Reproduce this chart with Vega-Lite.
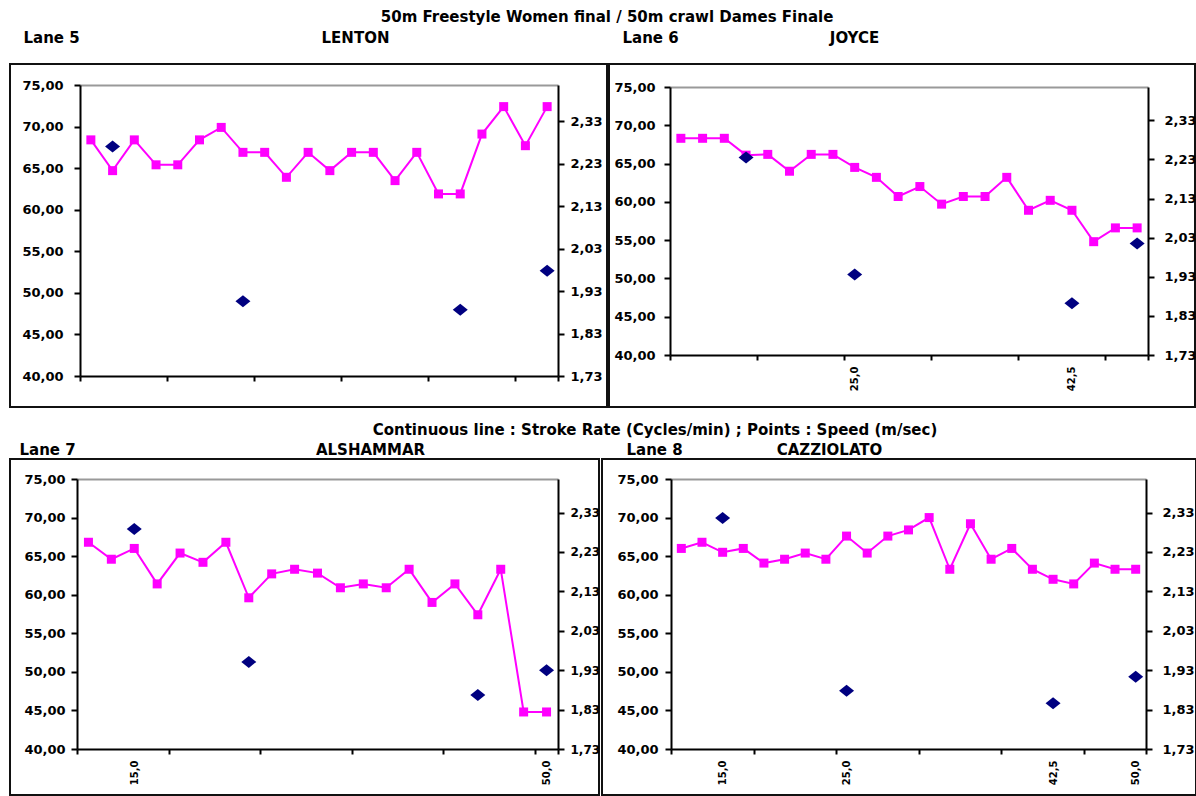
{
  "$schema": "https://vega.github.io/schema/vega-lite/v6.json",
  "padding": {"left": 9, "top": 10, "right": 0, "bottom": 0},
  "title": {"text": "50m Freestyle Women final / 50m crawl Dames Finale", "anchor": "middle", "dx": 4, "offset": 4},
  "spacing": 15,
  "vconcat": [
    {
      "spacing": 0,
      "hconcat": [
        {
          "width": 597, "height": 343,
          "layer": [
            {
              "data": {"values": [
                {"n": 1, "rate": 68.4}, {"n": 2, "rate": 64.7}, {"n": 3, "rate": 68.4}, {"n": 4, "rate": 65.4},
                {"n": 5, "rate": 65.4}, {"n": 6, "rate": 68.4}, {"n": 7, "rate": 69.9}, {"n": 8, "rate": 66.9},
                {"n": 9, "rate": 66.9}, {"n": 10, "rate": 63.9}, {"n": 11, "rate": 66.9}, {"n": 12, "rate": 64.7},
                {"n": 13, "rate": 66.9}, {"n": 14, "rate": 66.9}, {"n": 15, "rate": 63.5}, {"n": 16, "rate": 66.9},
                {"n": 17, "rate": 61.9}, {"n": 18, "rate": 61.9}, {"n": 19, "rate": 69.1}, {"n": 20, "rate": 72.4},
                {"n": 21, "rate": 67.7}, {"n": 22, "rate": 72.4}
              ]},
              "mark": {"type": "line", "color": "#FF00FF", "strokeWidth": 2, "point": {"shape": "square", "size": 81, "filled": true, "color": "#FF00FF", "opacity": 1}},
              "encoding": {
                "x": {"field": "n", "type": "quantitative",
                  "scale": {"domain": [0.5, 22.5], "range": [70, 548], "nice": false, "zero": false},
                  "axis": {"values": [0.5, 4.5, 8.5, 12.5, 16.5, 20.5, 22.5], "labels": false, "tickSize": 5, "offset": -31, "title": null}},
                "y": {"field": "rate", "type": "quantitative",
                  "scale": {"domain": [40, 75], "range": [312, 21], "nice": false, "zero": false},
                  "axis": {"values": [40, 45, 50, 55, 60, 65, 70, 75], "labelExpr": "replace(format(datum.value, '.2f'), '.', ',')",
                    "offset": -70, "labelPadding": 11, "grid": true, "gridColor": "#999999", "gridWidth": 2,
                    "gridOpacity": {"condition": {"test": "datum.value === 75", "value": 1}, "value": 0},
                    "title": "Lane 5", "titleAngle": 0, "titleAlign": "left", "titleBaseline": "middle", "titleX": -57, "titleY": -27}}
              }
            },
            {
              "data": {"values": [
                {"n": 2, "speed": 2.27}, {"n": 8, "speed": 1.906}, {"n": 18, "speed": 1.886}, {"n": 22, "speed": 1.978}
              ]},
              "mark": {"type": "point", "shape": "M-1,0L0,-0.8L1,0L0,0.8Z", "size": 225, "filled": true, "color": "#000080", "opacity": 1},
              "encoding": {
                "x": {"field": "n", "type": "quantitative"},
                "y": {"field": "speed", "type": "quantitative",
                  "scale": {"domain": [1.73, 2.415], "range": [312, 21], "nice": false, "zero": false},
                  "axis": {"orient": "right", "values": [1.73, 1.83, 1.93, 2.03, 2.13, 2.23, 2.33], "labelExpr": "replace(format(datum.value, '.2f'), '.', ',')",
                    "offset": -49, "labelPadding": 6,
                    "title": "LENTON", "titleAngle": 0, "titleAlign": "center", "titleBaseline": "middle", "titleX": -203, "titleY": -27}}
              }
            }
          ],
          "resolve": {"scale": {"y": "independent"}}
        },
        {
          "width": 586, "height": 343,
          "layer": [
            {
              "data": {"values": [
                {"n": 1, "rate": 68.3}, {"n": 2, "rate": 68.3}, {"n": 3, "rate": 68.3}, {"n": 4, "rate": 66.1},
                {"n": 5, "rate": 66.2}, {"n": 6, "rate": 64.0}, {"n": 7, "rate": 66.2}, {"n": 8, "rate": 66.2},
                {"n": 9, "rate": 64.5}, {"n": 10, "rate": 63.2}, {"n": 11, "rate": 60.7}, {"n": 12, "rate": 62.0},
                {"n": 13, "rate": 59.7}, {"n": 14, "rate": 60.7}, {"n": 15, "rate": 60.7}, {"n": 16, "rate": 63.2},
                {"n": 17, "rate": 58.9}, {"n": 18, "rate": 60.2}, {"n": 19, "rate": 58.9}, {"n": 20, "rate": 54.8},
                {"n": 21, "rate": 56.6}, {"n": 22, "rate": 56.6}
              ]},
              "mark": {"type": "line", "color": "#FF00FF", "strokeWidth": 2, "point": {"shape": "square", "size": 81, "filled": true, "color": "#FF00FF", "opacity": 1}},
              "encoding": {
                "x": {"field": "n", "type": "quantitative",
                  "scale": {"domain": [0.5, 22.5], "range": [61, 539], "nice": false, "zero": false},
                  "axis": {"values": [0.5, 4.5, 8.5, 12.5, 16.5, 20.5, 22.5, 9, 19],
                    "labelExpr": "datum.value === 9 ? '25,0' : datum.value === 19 ? '42,5' : ''",
                    "tickOpacity": {"condition": {"test": "datum.value % 1 === 0", "value": 0}, "value": 1},
                    "labelAngle": -90, "labelFontSize": 10, "labelPadding": 6, "labelFlush": false, "labelOverlap": false,
                    "tickSize": 5, "offset": -52, "title": null}},
                "y": {"field": "rate", "type": "quantitative",
                  "scale": {"domain": [40, 75], "range": [291, 23], "nice": false, "zero": false},
                  "axis": {"values": [40, 45, 50, 55, 60, 65, 70, 75], "labelExpr": "replace(format(datum.value, '.2f'), '.', ',')",
                    "offset": -61, "labelPadding": 9, "grid": true, "gridColor": "#999999", "gridWidth": 2,
                    "gridOpacity": {"condition": {"test": "datum.value === 75", "value": 1}, "value": 0},
                    "title": "Lane 6", "titleAngle": 0, "titleAlign": "left", "titleBaseline": "middle", "titleX": -48, "titleY": -27}}
              }
            },
            {
              "data": {"values": [
                {"n": 4, "speed": 2.235}, {"n": 9, "speed": 1.936}, {"n": 19, "speed": 1.862}, {"n": 22, "speed": 2.015}
              ]},
              "mark": {"type": "point", "shape": "M-1,0L0,-0.8L1,0L0,0.8Z", "size": 225, "filled": true, "color": "#000080", "opacity": 1},
              "encoding": {
                "x": {"field": "n", "type": "quantitative"},
                "y": {"field": "speed", "type": "quantitative",
                  "scale": {"domain": [1.73, 2.415], "range": [291, 23], "nice": false, "zero": false},
                  "axis": {"orient": "right", "values": [1.73, 1.83, 1.93, 2.03, 2.13, 2.23, 2.33], "labelExpr": "replace(format(datum.value, '.2f'), '.', ',')",
                    "offset": -47, "labelPadding": 10,
                    "title": "JOYCE", "titleAngle": 0, "titleAlign": "center", "titleBaseline": "middle", "titleX": -294, "titleY": -27}}
              }
            }
          ],
          "resolve": {"scale": {"y": "independent"}}
        }
      ]
    },
    {
      "spacing": 0,
      "title": {"text": "Continuous line : Stroke Rate (Cycles/min) ; Points : Speed (m/sec)", "anchor": "middle", "dx": 52, "offset": 3},
      "hconcat": [
        {
          "width": 589, "height": 336,
          "layer": [
            {
              "data": {"values": [
                {"n": 1, "rate": 66.8}, {"n": 2, "rate": 64.6}, {"n": 3, "rate": 66.0}, {"n": 4, "rate": 61.4},
                {"n": 5, "rate": 65.4}, {"n": 6, "rate": 64.2}, {"n": 7, "rate": 66.8}, {"n": 8, "rate": 59.6},
                {"n": 9, "rate": 62.7}, {"n": 10, "rate": 63.3}, {"n": 11, "rate": 62.8}, {"n": 12, "rate": 60.9},
                {"n": 13, "rate": 61.4}, {"n": 14, "rate": 60.9}, {"n": 15, "rate": 63.3}, {"n": 16, "rate": 59.0},
                {"n": 17, "rate": 61.4}, {"n": 18, "rate": 57.4}, {"n": 19, "rate": 63.3}, {"n": 20, "rate": 44.8},
                {"n": 21, "rate": 44.8}
              ]},
              "mark": {"type": "line", "color": "#FF00FF", "strokeWidth": 2, "point": {"shape": "square", "size": 81, "filled": true, "color": "#FF00FF", "opacity": 1}},
              "encoding": {
                "x": {"field": "n", "type": "quantitative",
                  "scale": {"domain": [0.5, 21.5], "range": [67, 548], "nice": false, "zero": false},
                  "axis": {"values": [0.5, 4.5, 8.5, 12.5, 16.5, 20.5, 21.5, 3, 21],
                    "labelExpr": "datum.value === 3 ? '15,0' : datum.value === 21 ? '50,0' : ''",
                    "tickOpacity": {"condition": {"test": "datum.value % 1 === 0", "value": 0}, "value": 1},
                    "labelAngle": -90, "labelFontSize": 10, "labelPadding": 6, "labelFlush": false, "labelOverlap": false,
                    "tickSize": 5, "offset": -46, "title": null}},
                "y": {"field": "rate", "type": "quantitative",
                  "scale": {"domain": [40, 75], "range": [290, 20], "nice": false, "zero": false},
                  "axis": {"values": [40, 45, 50, 55, 60, 65, 70, 75], "labelExpr": "replace(format(datum.value, '.2f'), '.', ',')",
                    "offset": -67, "labelPadding": 6, "grid": true, "gridColor": "#999999", "gridWidth": 2,
                    "gridOpacity": {"condition": {"test": "datum.value === 75", "value": 1}, "value": 0},
                    "title": "Lane 7", "titleAngle": 0, "titleAlign": "left", "titleBaseline": "middle", "titleX": -58, "titleY": -10}}
              }
            },
            {
              "data": {"values": [
                {"n": 3, "speed": 2.288}, {"n": 8, "speed": 1.951}, {"n": 18, "speed": 1.867}, {"n": 21, "speed": 1.93}
              ]},
              "mark": {"type": "point", "shape": "M-1,0L0,-0.8L1,0L0,0.8Z", "size": 225, "filled": true, "color": "#000080", "opacity": 1},
              "encoding": {
                "x": {"field": "n", "type": "quantitative"},
                "y": {"field": "speed", "type": "quantitative",
                  "scale": {"domain": [1.73, 2.415], "range": [290, 20], "nice": false, "zero": false},
                  "axis": {"orient": "right", "values": [1.73, 1.83, 1.93, 2.03, 2.13, 2.23, 2.33], "labelExpr": "replace(format(datum.value, '.2f'), '.', ',')",
                    "offset": -41, "labelPadding": 6, "labelFontSize": 12,
                    "title": "ALSHAMMAR", "titleAngle": 0, "titleAlign": "center", "titleBaseline": "middle", "titleX": -188, "titleY": -10}}
              }
            }
          ],
          "resolve": {"scale": {"y": "independent"}}
        },
        {
          "width": 594, "height": 336,
          "layer": [
            {
              "data": {"values": [
                {"n": 1, "rate": 66.0}, {"n": 2, "rate": 66.8}, {"n": 3, "rate": 65.5}, {"n": 4, "rate": 66.0},
                {"n": 5, "rate": 64.1}, {"n": 6, "rate": 64.6}, {"n": 7, "rate": 65.4}, {"n": 8, "rate": 64.6},
                {"n": 9, "rate": 67.6}, {"n": 10, "rate": 65.4}, {"n": 11, "rate": 67.6}, {"n": 12, "rate": 68.4},
                {"n": 13, "rate": 70.0}, {"n": 14, "rate": 63.3}, {"n": 15, "rate": 69.2}, {"n": 16, "rate": 64.6},
                {"n": 17, "rate": 66.0}, {"n": 18, "rate": 63.3}, {"n": 19, "rate": 62.0}, {"n": 20, "rate": 61.4},
                {"n": 21, "rate": 64.1}, {"n": 22, "rate": 63.3}, {"n": 23, "rate": 63.3}
              ]},
              "mark": {"type": "line", "color": "#FF00FF", "strokeWidth": 2, "point": {"shape": "square", "size": 81, "filled": true, "color": "#FF00FF", "opacity": 1}},
              "encoding": {
                "x": {"field": "n", "type": "quantitative",
                  "scale": {"domain": [0.5, 23.5], "range": [69, 544], "nice": false, "zero": false},
                  "axis": {"values": [0.5, 4.5, 8.5, 12.5, 16.5, 20.5, 23.5, 3, 9, 19, 23],
                    "labelExpr": "datum.value === 3 ? '15,0' : datum.value === 9 ? '25,0' : datum.value === 19 ? '42,5' : datum.value === 23 ? '50,0' : ''",
                    "tickOpacity": {"condition": {"test": "datum.value % 1 === 0", "value": 0}, "value": 1},
                    "labelAngle": -90, "labelFontSize": 10, "labelPadding": 6, "labelFlush": false, "labelOverlap": false,
                    "tickSize": 5, "offset": -46, "title": null}},
                "y": {"field": "rate", "type": "quantitative",
                  "scale": {"domain": [40, 75], "range": [290, 20], "nice": false, "zero": false},
                  "axis": {"values": [40, 45, 50, 55, 60, 65, 70, 75], "labelExpr": "replace(format(datum.value, '.2f'), '.', ',')",
                    "offset": -69, "labelPadding": 7, "grid": true, "gridColor": "#999999", "gridWidth": 2,
                    "gridOpacity": {"condition": {"test": "datum.value === 75", "value": 1}, "value": 0},
                    "title": "Lane 8", "titleAngle": 0, "titleAlign": "left", "titleBaseline": "middle", "titleX": -45, "titleY": -10}}
              }
            },
            {
              "data": {"values": [
                {"n": 3, "speed": 2.316}, {"n": 9, "speed": 1.878}, {"n": 19, "speed": 1.846}, {"n": 23, "speed": 1.913}
              ]},
              "mark": {"type": "point", "shape": "M-1,0L0,-0.8L1,0L0,0.8Z", "size": 225, "filled": true, "color": "#000080", "opacity": 1},
              "encoding": {
                "x": {"field": "n", "type": "quantitative"},
                "y": {"field": "speed", "type": "quantitative",
                  "scale": {"domain": [1.73, 2.415], "range": [290, 20], "nice": false, "zero": false},
                  "axis": {"orient": "right", "values": [1.73, 1.83, 1.93, 2.03, 2.13, 2.23, 2.33], "labelExpr": "replace(format(datum.value, '.2f'), '.', ',')",
                    "offset": -50, "labelPadding": 10,
                    "title": "CAZZIOLATO", "titleAngle": 0, "titleAlign": "center", "titleBaseline": "middle", "titleX": -317, "titleY": -10}}
              }
            }
          ],
          "resolve": {"scale": {"y": "independent"}}
        }
      ]
    }
  ],
  "config": {
    "view": {"stroke": "#111111", "strokeWidth": 2},
    "axis": {
      "domainColor": "#000000", "domainWidth": 2, "tickColor": "#000000", "tickWidth": 2, "tickSize": 6,
      "labelFont": "DejaVu Sans", "labelFontWeight": "bold", "labelFontSize": 13, "labelColor": "#000000",
      "titleFont": "DejaVu Sans", "titleFontWeight": "bold", "titleFontSize": 15, "titleColor": "#000000", "grid": false
    },
    "title": {"font": "DejaVu Sans", "fontWeight": "bold", "fontSize": 15, "color": "#000000"}
  }
}
